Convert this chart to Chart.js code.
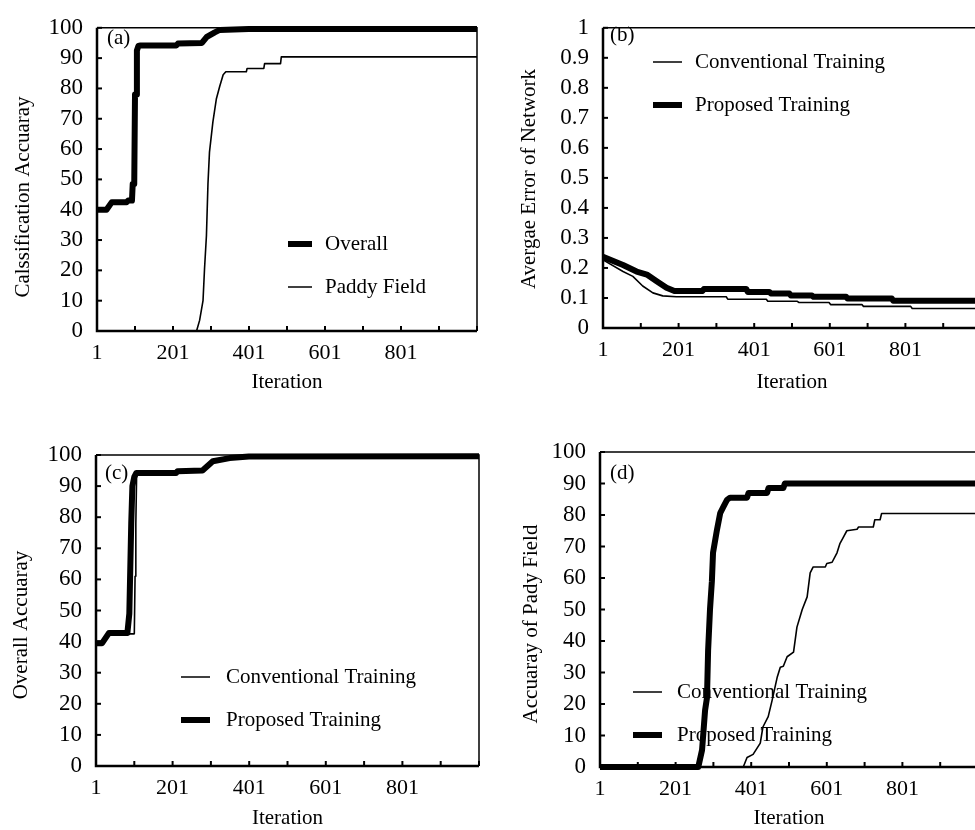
<!DOCTYPE html>
<html>
<head>
<meta charset="utf-8">
<script src="https://cdn.jsdelivr.net/npm/chart.js@4.4.1/dist/chart.umd.min.js"></script>
<style>
  html, body { margin: 0; padding: 0; background: #fff; overflow: hidden; width: 975px; height: 830px; }
  .panel { position: absolute; }
</style>
</head>
<body>
<div class="panel" style="left:0;top:0"><canvas id="chartA" width="490" height="410"></canvas></div>
<div class="panel" style="left:490px;top:0"><canvas id="chartB" width="500" height="410"></canvas></div>
<div class="panel" style="left:0;top:410px"><canvas id="chartC" width="490" height="430"></canvas></div>
<div class="panel" style="left:490px;top:410px"><canvas id="chartD" width="500" height="430"></canvas></div>
<script>
// axis ticks
const xTickValues = [1, 101, 201, 301, 401, 501, 601, 701, 801, 901, 1001];
const xTickLabels = ['1', '', '201', '', '401', '', '601', '', '801', '', ''];
const pctTicks = [0, 10, 20, 30, 40, 50, 60, 70, 80, 90, 100];
const errTicks = [0, 0.1, 0.2, 0.3, 0.4, 0.5, 0.6, 0.7, 0.8, 0.9, 1];

// (a) classification accuracy
const itA_overall = [1, 26, 40, 79, 83, 93, 95, 99, 101, 104, 106, 110, 116, 210, 214, 277, 290, 311, 324, 400, 1001];
const valA_overall = [40, 40, 42.5, 42.5, 43, 43, 48.5, 48.5, 78, 78, 92.5, 94, 94.2, 94.2, 94.8, 95, 97, 98.5, 99.3, 99.6, 99.6];
const itA_paddy = [1, 263, 271, 280, 284, 289, 293, 297, 306, 315, 324, 333, 340, 394, 396, 440, 442, 484, 486, 1001];
const valA_paddy = [0, 0, 3.5, 10, 20.6, 31.5, 48.5, 59, 69, 76.5, 80.7, 84.5, 85.5, 85.5, 86.6, 86.6, 88.2, 88.2, 90.4, 90.4];

// (b) average error of network
const itB_conv = [1, 54, 80, 106, 133, 159, 195, 327, 331, 433, 437, 515, 519, 599, 603, 686, 690, 815, 819, 1001];
const valB_conv = [0.227, 0.188, 0.172, 0.14, 0.117, 0.107, 0.104, 0.104, 0.096, 0.096, 0.089, 0.089, 0.085, 0.085, 0.078, 0.078, 0.072, 0.072, 0.065, 0.065];
const itB_prop = [1, 54, 90, 117, 143, 169, 190, 264, 268, 380, 384, 441, 445, 494, 498, 554, 558, 644, 648, 765, 769, 1001];
const valB_prop = [0.237, 0.21, 0.188, 0.178, 0.156, 0.134, 0.123, 0.123, 0.13, 0.13, 0.12, 0.12, 0.115, 0.115, 0.108, 0.108, 0.104, 0.104, 0.098, 0.098, 0.091, 0.091];

// (c) overall accuracy
const itC_conv = [1, 20, 35, 101, 103, 105, 107, 110, 114, 210, 214, 279, 308, 352, 400, 1001];
const valC_conv = [40, 40, 42.5, 42.5, 61, 78, 93, 94, 94.2, 94.2, 94.8, 95, 98, 99, 99.5, 99.7];
const itC_prop = [1, 17, 35, 83, 88, 93, 96, 101, 106, 210, 214, 279, 306, 350, 400, 1001];
const valC_prop = [39.5, 39.5, 42.8, 42.8, 49, 78, 90, 93, 94.2, 94.2, 94.8, 95, 98, 99, 99.5, 99.6];

// (d) accuracy of paddy field
const itD_conv = [1, 380, 390, 406, 425, 432, 446, 456, 470, 478, 486, 496, 513, 522, 536, 549, 557, 565, 597, 601, 615, 628, 636, 645, 654, 681, 685, 724, 728, 742, 746, 1001];
const valD_conv = [0, 0, 3, 4, 7.6, 12.7, 16, 21, 28.6, 31.7, 32, 35, 36.5, 44.4, 50, 54, 61.6, 63.5, 63.5, 64.6, 65, 68, 71, 73, 75, 75.5, 76.2, 76.2, 78.5, 78.5, 80.5, 80.5];
const itD_prop = [1, 261, 271, 279, 284, 287, 292, 297, 300, 310, 319, 327, 337, 345, 390, 394, 443, 447, 486, 490, 1001];
const valD_prop = [0, 0, 5.4, 18, 22, 37, 50, 59, 68, 75, 80.6, 82.5, 84.8, 85.5, 85.5, 87, 87, 88.6, 88.6, 90, 90];

Chart.defaults.font.family = '"Liberation Serif", "Times New Roman", serif';
Chart.defaults.color = '#000';

const toPoints = (xs, ys) => xs.map((x, i) => ({ x: x, y: ys[i] }));

// box, inward tick marks, y title, legend and panel letter
const framePlugin = {
  id: 'frame',
  beforeDatasetsDraw(chart, args, opts) {
    const ctx = chart.ctx;
    ctx.save();
    ctx.fillStyle = '#000';
    ctx.strokeStyle = '#000';
    ctx.font = '21px "Liberation Serif"';
    ctx.textBaseline = 'middle';
    ctx.fillText(opts.letter, opts.letterX, opts.letterY);
    opts.legend.forEach((item, i) => {
      const y = opts.legendY + i * opts.legendGap;
      ctx.lineWidth = item.thick ? 6 : 1.5;
      ctx.beginPath();
      ctx.moveTo(opts.lineX1, y);
      ctx.lineTo(opts.lineX2, y);
      ctx.stroke();
      ctx.fillText(item.label, opts.textX, y);
    });
    // y axis title (sits a little below the axis centre in the original)
    ctx.translate(opts.yTitleX, opts.yTitleY);
    ctx.rotate(-Math.PI / 2);
    ctx.textAlign = 'center';
    ctx.fillText(opts.yTitle, 0, 0);
    ctx.restore();
  },
  afterDatasetsDraw(chart) {
    const { ctx, chartArea: a, scales } = chart;
    ctx.save();
    ctx.strokeStyle = '#000';
    ctx.lineWidth = 1.5;
    ctx.beginPath();
    ctx.moveTo(a.left, a.top);
    ctx.lineTo(a.right, a.top);
    ctx.lineTo(a.right, a.bottom);
    ctx.stroke();
    ctx.lineWidth = 2.5;
    ctx.beginPath();
    ctx.moveTo(a.left, a.top);
    ctx.lineTo(a.left, a.bottom);
    ctx.lineTo(a.right, a.bottom);
    ctx.stroke();
    ctx.lineWidth = 2;
    scales.x.ticks.forEach(t => {
      const px = scales.x.getPixelForValue(t.value);
      ctx.beginPath();
      ctx.moveTo(px, a.bottom);
      ctx.lineTo(px, a.bottom - 5);
      ctx.stroke();
    });
    scales.y.ticks.forEach(t => {
      const py = scales.y.getPixelForValue(t.value);
      ctx.beginPath();
      ctx.moveTo(a.left, py);
      ctx.lineTo(a.left + 5, py);
      ctx.stroke();
    });
    ctx.restore();
  }
};

function makeChart(id, cfg) {
  const canvas = document.getElementById(id);
  const H = canvas.height;
  new Chart(canvas, {
    type: 'line',
    data: {
      datasets: cfg.series.map(s => ({
        data: toPoints(s.xs, s.ys),
        borderColor: '#000',
        borderWidth: s.thick ? 6 : 1.6,
        pointRadius: 0,
        tension: 0,
        fill: false,
        borderJoinStyle: 'round',
        clip: 6
      }))
    },
    options: {
      responsive: false,
      animation: false,
      layout: { padding: { top: cfg.top, right: cfg.right, left: 0, bottom: 0 } },
      plugins: {
        legend: { display: false },
        tooltip: { enabled: false },
        frame: cfg.frame
      },
      scales: {
        x: {
          type: 'linear',
          min: 1,
          max: 1001,
          afterBuildTicks: s => { s.ticks = xTickValues.map(v => ({ value: v })); },
          afterFit: s => { s.height = H - cfg.bottom; },
          grid: { display: false, drawTicks: false },
          border: { display: false },
          ticks: {
            autoSkip: false,
            maxRotation: 0,
            padding: 9,
            font: { size: 22 },
            callback: (v, i) => xTickLabels[i]
          },
          title: { display: true, text: 'Iteration', font: { size: 21 }, padding: { top: 0, bottom: cfg.xTitlePad } }
        },
        y: {
          type: 'linear',
          min: cfg.yTicks[0],
          max: cfg.yTicks[cfg.yTicks.length - 1],
          afterBuildTicks: s => { s.ticks = cfg.yTicks.map(v => ({ value: v })); },
          afterFit: s => { s.width = cfg.left; },
          grid: { display: false, drawTicks: false },
          border: { display: false },
          ticks: {
            autoSkip: false,
            padding: 14,
            font: { size: 23 },
            callback: (v, i) => String(cfg.yTicks[i])
          },
          title: { display: false }
        }
      }
    },
    plugins: [framePlugin]
  });
}

makeChart('chartA', {
  left: 97, top: 20, right: 13, bottom: 331,
  yTicks: pctTicks, xTitlePad: 15,
  series: [
    { xs: itA_overall, ys: valA_overall, thick: true },
    { xs: itA_paddy, ys: valA_paddy, thick: false }
  ],
  frame: {
    letter: '(a)', letterX: 107, letterY: 38,
    yTitle: 'Calssification Accuaray', yTitleX: 23, yTitleY: 197,
    legendY: 244, legendGap: 43, lineX1: 288, lineX2: 312, textX: 325,
    legend: [{ label: 'Overall', thick: true }, { label: 'Paddy Field', thick: false }]
  }
});

makeChart('chartB', {
  left: 113, top: 20, right: 8, bottom: 328,
  yTicks: errTicks, xTitlePad: 15,
  series: [
    { xs: itB_prop, ys: valB_prop, thick: true },
    { xs: itB_conv, ys: valB_conv, thick: false }
  ],
  frame: {
    letter: '(b)', letterX: 120, letterY: 35,
    yTitle: 'Avergae Error of Network', yTitleX: 39, yTitleY: 179,
    legendY: 62, legendGap: 43, lineX1: 163, lineX2: 192, textX: 205,
    legend: [{ label: 'Conventional Training', thick: false }, { label: 'Proposed Training', thick: true }]
  }
});

makeChart('chartC', {
  left: 96, top: 45, right: 11, bottom: 356,
  yTicks: pctTicks, xTitlePad: 9,
  series: [
    { xs: itC_prop, ys: valC_prop, thick: true },
    { xs: itC_conv, ys: valC_conv, thick: false }
  ],
  frame: {
    letter: '(c)', letterX: 105, letterY: 63,
    yTitle: 'Overall Accuaray', yTitleX: 21, yTitleY: 215,
    legendY: 267, legendGap: 43, lineX1: 181, lineX2: 210, textX: 226,
    legend: [{ label: 'Conventional Training', thick: false }, { label: 'Proposed Training', thick: true }]
  }
});

makeChart('chartD', {
  left: 110, top: 42, right: 12, bottom: 357,
  yTicks: pctTicks, xTitlePad: 9,
  series: [
    { xs: itD_prop, ys: valD_prop, thick: true },
    { xs: itD_conv, ys: valD_conv, thick: false }
  ],
  frame: {
    letter: '(d)', letterX: 120, letterY: 63,
    yTitle: 'Accuaray of Pady Field', yTitleX: 41, yTitleY: 214,
    legendY: 282, legendGap: 43, lineX1: 143, lineX2: 172, textX: 187,
    legend: [{ label: 'Conventional Training', thick: false }, { label: 'Proposed Training', thick: true }]
  }
});
</script>
</body>
</html>
